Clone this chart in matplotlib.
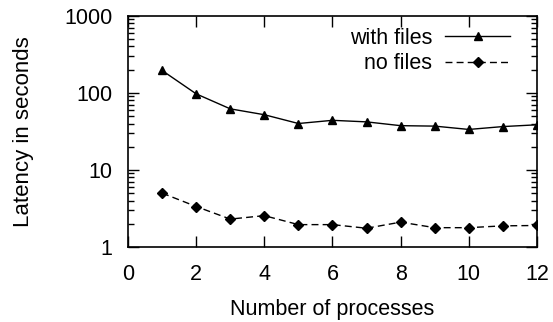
import numpy as np
import matplotlib.pyplot as plt
from matplotlib.ticker import LogLocator, NullFormatter, FixedLocator

plt.rcParams['font.family'] = ['Liberation Sans', 'DejaVu Sans']
plt.rcParams['font.size'] = 15.5

# Dados
processes = [1, 2, 3, 4, 5, 6, 7, 8, 9, 10, 11, 12]
with_files = [195, 97, 62, 52, 40, 44, 42, 37.5, 37, 33.5, 36.5, 38.5]
no_files = [5.0, 3.35, 2.3, 2.55, 1.95, 1.95, 1.75, 2.1, 1.78, 1.78, 1.88, 1.9]

fig = plt.figure(figsize=(5.53, 3.22), dpi=100)
ax = fig.add_axes([0.2315, 0.233, 0.7395, 0.718])

ax.plot(processes, with_files, color='black', linestyle='-', linewidth=1.0,
        marker='^', markersize=6, label='with files')
ax.plot(processes, no_files, color='black', linestyle=(0, (5, 3)), linewidth=1.0,
        marker='D', markersize=5, label='no files')

ax.set_yscale('log')
ax.set_xlim(0, 12)
ax.set_ylim(1, 1000)
ax.xaxis.set_major_locator(FixedLocator([0, 2, 4, 6, 8, 10, 12]))
ax.yaxis.set_major_locator(FixedLocator([1, 10, 100, 1000]))
ax.set_yticklabels(['1', '10', '100', '1000'])
ax.yaxis.set_minor_locator(LogLocator(base=10, subs=np.arange(2, 10)))
ax.yaxis.set_minor_formatter(NullFormatter())

ax.tick_params(which='both', direction='in', top=True, right=True, width=1.0)
ax.tick_params(which='major', length=8)
ax.tick_params(which='minor', length=4)
ax.tick_params(axis='x', which='major', pad=12)
ax.tick_params(axis='y', which='major', pad=11)
for s in ax.spines.values():
    s.set_linewidth(1.2)

ax.set_xlabel('Number of processes', labelpad=10)
ax.set_ylabel('Latency in seconds', labelpad=22, fontsize=16)

ax.legend(loc='upper right', frameon=False, markerfirst=False, handlelength=3.0,
          bbox_to_anchor=(0.955, 0.985), borderaxespad=0.0,
          labelspacing=0.2, handletextpad=0.6)

fig.savefig('out.png', dpi=100)
